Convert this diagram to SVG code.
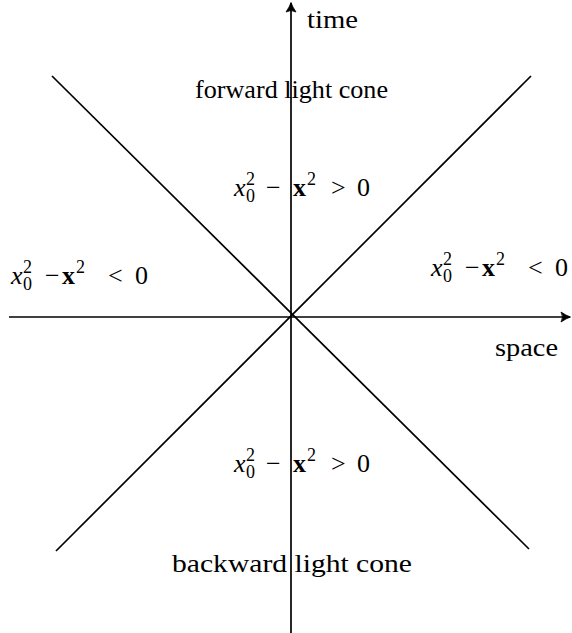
<svg xmlns="http://www.w3.org/2000/svg" width="572" height="633" viewBox="0 0 572 633">
<style>
.ln{stroke:#000;stroke-width:1.7;fill:none}
.t{font-family:"Liberation Serif","Times New Roman",serif;font-size:26px;fill:#000}
.it{font-style:italic}
.bf{font-weight:bold}
.sm{font-size:18px}
</style>
<defs>
<marker id="ah" markerWidth="14" markerHeight="12" viewBox="-11 -6 12 12" refX="0" refY="0" orient="auto" markerUnits="userSpaceOnUse">
<path d="M0.5,0 Q-4,-1.5 -9,-5 Q-6,0 -9,5 Q-4,1.5 0.5,0 Z" fill="#000" stroke="#000" stroke-width="0.8" stroke-linejoin="round"/>
</marker>
</defs>
<rect width="572" height="633" fill="#fff"/>
<g id="connectors">
<line class="ln" x1="291" y1="633" x2="291" y2="3" marker-end="url(#ah)"/>
<line class="ln" x1="9" y1="317" x2="570" y2="317" marker-end="url(#ah)"/>
<line class="ln" x1="52" y1="76" x2="529" y2="549"/>
<line class="ln" x1="531" y1="76" x2="56" y2="551"/>
</g>
<g id="time-label"><text class="t" x="307" y="28" textLength="51" lengthAdjust="spacingAndGlyphs">time</text></g>
<g id="space-label"><text class="t" x="495" y="356" textLength="63" lengthAdjust="spacingAndGlyphs">space</text></g>
<g id="forward-cone"><text class="t" x="195" y="98" textLength="193" lengthAdjust="spacingAndGlyphs">forward light cone</text></g>
<g id="backward-cone"><text class="t" x="172" y="572" textLength="240" lengthAdjust="spacingAndGlyphs">backward light cone</text></g>
<g id="expr-top">
<text class="t"><tspan class="it" x="234" y="196">x</tspan><tspan class="sm" x="246" y="185">2</tspan><tspan class="sm" x="246" y="202">0</tspan><tspan x="266" y="196">−</tspan><tspan class="bf" x="293" y="196">x</tspan><tspan class="sm" x="307" y="185">2</tspan><tspan x="331" y="196">&gt;</tspan><tspan x="357" y="196">0</tspan></text>
</g>
<g id="expr-bottom">
<text class="t"><tspan class="it" x="234" y="472">x</tspan><tspan class="sm" x="246" y="461">2</tspan><tspan class="sm" x="246" y="478">0</tspan><tspan x="266" y="472">−</tspan><tspan class="bf" x="293" y="472">x</tspan><tspan class="sm" x="307" y="461">2</tspan><tspan x="331" y="472">&gt;</tspan><tspan x="357" y="472">0</tspan></text>
</g>
<g id="expr-left">
<text class="t"><tspan class="it" x="11" y="284">x</tspan><tspan class="sm" x="23" y="273">2</tspan><tspan class="sm" x="23" y="290">0</tspan><tspan x="45" y="284">−</tspan><tspan class="bf" x="62" y="284">x</tspan><tspan class="sm" x="76" y="273">2</tspan><tspan x="108" y="284">&lt;</tspan><tspan x="135" y="284">0</tspan></text>
</g>
<g id="expr-right">
<text class="t"><tspan class="it" x="431" y="276">x</tspan><tspan class="sm" x="443" y="265">2</tspan><tspan class="sm" x="443" y="282">0</tspan><tspan x="465" y="276">−</tspan><tspan class="bf" x="482" y="276">x</tspan><tspan class="sm" x="496" y="265">2</tspan><tspan x="528" y="276">&lt;</tspan><tspan x="555" y="276">0</tspan></text>
</g>
</svg>
